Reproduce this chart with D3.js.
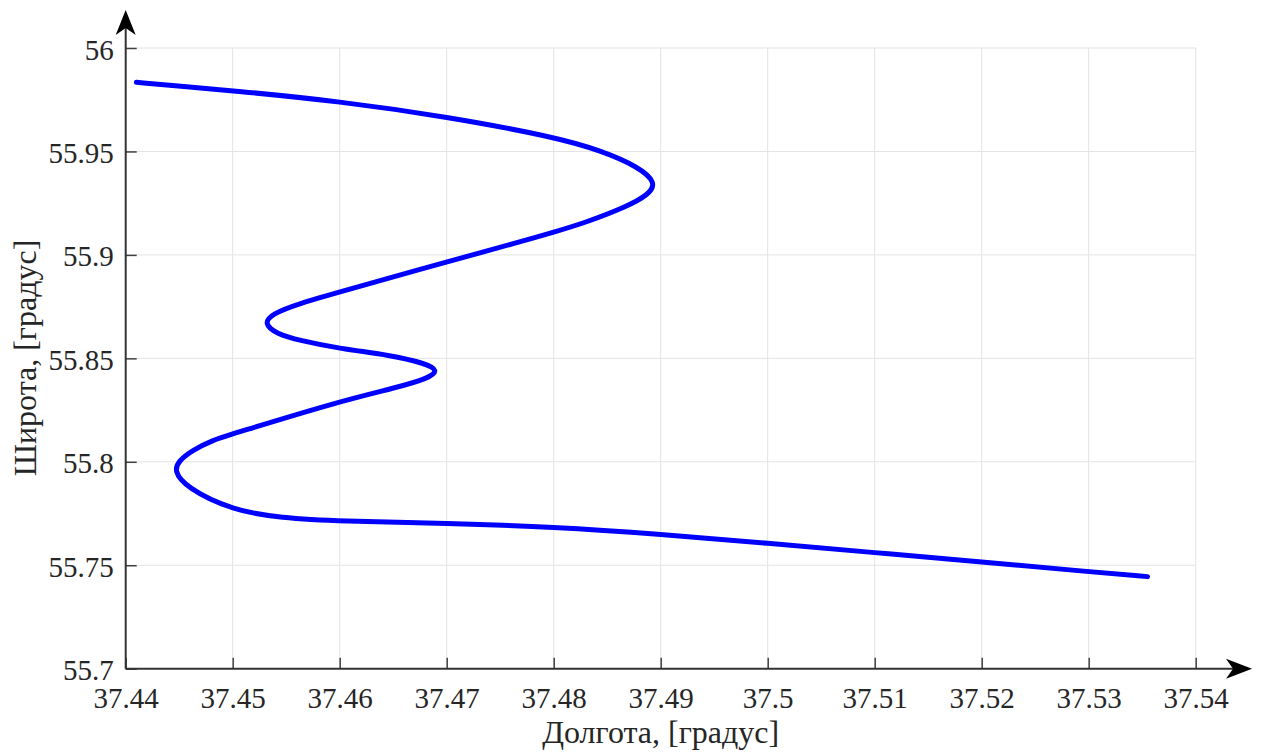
<!DOCTYPE html>
<html>
<head>
<meta charset="utf-8">
<script src="https://cdn.jsdelivr.net/npm/d3@7"></script>
<style>
  html, body { margin: 0; padding: 0; background: #ffffff; }
  svg { display: block; }
</style>
</head>
<body>
<svg id="chart" width="1262" height="753"></svg>
<script>
// ---- data (longitude / latitude of the route) ----
const lon = [37.4410, 37.4450, 37.4500, 37.4600, 37.4700, 37.4800, 37.4845, 37.4879, 37.4896, 37.4889,
             37.4868, 37.4828, 37.4800, 37.4772, 37.4700, 37.4600, 37.4562, 37.4537, 37.4529, 37.4541,
             37.4562, 37.4600, 37.4648, 37.4679, 37.4693, 37.4682, 37.4655, 37.4600, 37.4500, 37.4482,
             37.4462, 37.4450, 37.4445, 37.4456, 37.4500, 37.4545, 37.4600, 37.4700, 37.4800, 37.4900,
             37.5000, 37.5100, 37.5200, 37.5300, 37.5355];
const lat = [55.9834, 55.9815, 55.9794, 55.9742, 55.9668, 55.9571, 55.9503, 55.9426, 55.9350, 55.9292,
             55.9232, 55.9153, 55.9110, 55.9068, 55.8966, 55.8821, 55.8765, 55.8716, 55.8668, 55.8619,
             55.8587, 55.8547, 55.8515, 55.8477, 55.8442, 55.8402, 55.8361, 55.8293, 55.8135, 55.8106,
             55.8055, 55.8006, 55.7958, 55.7877, 55.7765, 55.7729, 55.7713, 55.7703, 55.7686, 55.7650,
             55.7606, 55.7561, 55.7516, 55.7469, 55.7445];

const xTicks = [37.44, 37.45, 37.46, 37.47, 37.48, 37.49, 37.50, 37.51, 37.52, 37.53, 37.54];
const xTickLabels = ["37.44", "37.45", "37.46", "37.47", "37.48", "37.49", "37.5", "37.51", "37.52", "37.53", "37.54"];
const yTicks = [55.70, 55.75, 55.80, 55.85, 55.90, 55.95, 56.00];
const yTickLabels = ["55.7", "55.75", "55.8", "55.85", "55.9", "55.95", "56"];

const xLabel = "Долгота, [градус]";
const yLabel = "Широта, [градус]";

// ---- layout ----
const svg = d3.select("#chart");
const mLeft = 125.7, mRight = 1195.7, mTop = 48, mBottom = 668.7;
const font = "'Liberation Serif', 'Times New Roman', serif";
const textColor = "#262626";

const x = d3.scaleLinear().domain([37.44, 37.54]).range([mLeft, mRight]);
const y = d3.scaleLinear().domain([55.7, 56.0]).range([mBottom, mTop]);

// grid
const grid = svg.append("g");
grid.selectAll("line.vx").data(xTicks).join("line")
  .attr("x1", d => x(d)).attr("x2", d => x(d))
  .attr("y1", mTop).attr("y2", mBottom)
  .attr("stroke", "#e3e3e3").attr("stroke-width", 1);
grid.selectAll("line.hy").data(yTicks).join("line")
  .attr("x1", mLeft).attr("x2", mRight)
  .attr("y1", d => y(d)).attr("y2", d => y(d))
  .attr("stroke", "#e3e3e3").attr("stroke-width", 1);

// curve
const pts = lon.map((d, i) => [d, lat[i]]);
const line = d3.line()
  .x(d => x(d[0])).y(d => y(d[1]))
  .curve(d3.curveBasis);
svg.append("path")
  .attr("d", line(pts))
  .attr("fill", "none")
  .attr("stroke", "#0000ff")
  .attr("stroke-width", 5)
  .attr("stroke-linecap", "round")
  .attr("stroke-linejoin", "round");

// axes
const xAxis = d3.axisBottom(x).tickValues(xTicks)
  .tickFormat((d, i) => xTickLabels[i]).tickSizeInner(-11).tickSizeOuter(0).tickPadding(0);
const yAxis = d3.axisLeft(y).tickValues(yTicks)
  .tickFormat((d, i) => yTickLabels[i]).tickSizeInner(-11).tickSizeOuter(0).tickPadding(0);

const gx = svg.append("g").attr("transform", `translate(0,${mBottom})`).call(xAxis);
gx.select(".domain").remove();
gx.selectAll(".tick line").attr("stroke", "#404040").attr("stroke-width", 1.5);
gx.selectAll(".tick text")
  .attr("y", 39).attr("dy", 0)
  .attr("fill", textColor)
  .style("font-family", font).style("font-size", "29px");

const gy = svg.append("g").attr("transform", `translate(${mLeft},0)`).call(yAxis);
gy.select(".domain").remove();
gy.selectAll(".tick line").attr("stroke", "#404040").attr("stroke-width", 1.5);
gy.selectAll(".tick text")
  .attr("x", -12).attr("dy", 0).attr("y", 11)
  .attr("fill", textColor)
  .style("font-family", font).style("font-size", "29px");

// axis lines with arrows
svg.append("line")
  .attr("x1", mLeft).attr("x2", 1240).attr("y1", mBottom).attr("y2", mBottom)
  .attr("stroke", "#333").attr("stroke-width", 2);
svg.append("line")
  .attr("x1", mLeft).attr("x2", mLeft).attr("y1", mBottom).attr("y2", 22)
  .attr("stroke", "#333").attr("stroke-width", 2);

// arrow heads (concave)
const ax = 1252, ay = mBottom;
svg.append("path")
  .attr("d", `M${ax},${ay} L${ax - 26},${ay - 10} L${ax - 19},${ay} L${ax - 26},${ay + 10} Z`)
  .attr("fill", "#000");
const bx = mLeft, by = 10;
svg.append("path")
  .attr("d", `M${bx},${by} L${bx - 10},${by + 25} L${bx},${by + 18} L${bx + 10},${by + 25} Z`)
  .attr("fill", "#000");

// axis labels
svg.append("text")
  .attr("x", (mLeft + mRight) / 2).attr("y", 743)
  .attr("text-anchor", "middle")
  .attr("fill", textColor)
  .style("font-family", font).style("font-size", "32px")
  .text(xLabel);
svg.append("text")
  .attr("transform", `translate(36,358) rotate(-90)`)
  .attr("text-anchor", "middle")
  .attr("fill", textColor)
  .style("font-family", font).style("font-size", "32px")
  .text(yLabel);
</script>
</body>
</html>
